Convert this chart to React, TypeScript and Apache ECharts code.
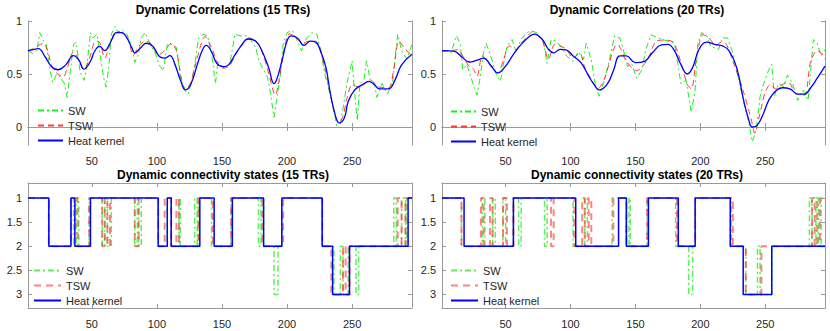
import React, { useEffect, useRef } from "react";
import * as echarts from "echarts";

// ---------- data ----------
const xTicks = [50, 100, 150, 200, 250];
const corrTicks = [0, 0.5, 1];
const stateTicks = [1, 1.5, 2, 2.5, 3];
const X_MIN = 1;
const X_MAX = 296;

const titles = [
  "Dynamic Correlations (15 TRs)",
  "Dynamic Correlations (20 TRs)",
  "Dynamic connectivity states (15 TRs)",
  "Dynamic connectivity states (20 TRs)",
];
const legendNames = ["SW", "TSW", "Heat kernel"];

// Dynamic correlations, 15 TRs  [TR, r]
const sw15 = [[1,0.72],[5,0.69],[8,0.73],[10,0.89],[13,0.81],[15,0.78],[18,0.53],[20,0.42],[23,0.5],[26,0.47],[29,0.41],[31,0.28],[33,0.47],[36,0.78],[38,0.8],[41,0.52],[44,0.44],[46,0.55],[49,0.89],[51,0.84],[54,0.875],[56,0.72],[59,0.47],[61,0.375],[63,0.56],[65,0.875],[68,0.95],[70,0.89],[73,0.92],[77,0.875],[81,0.75],[83,0.61],[86,0.69],[88,0.84],[91,0.89],[95,0.78],[99,0.69],[102,0.58],[105,0.53],[108,0.78],[111,0.78],[115,0.75],[118,0.47],[122,0.34],[124,0.31],[127,0.44],[130,0.66],[132,0.84],[135,0.875],[139,0.86],[142,0.69],[145,0.41],[147,0.625],[151,0.56],[156,0.59],[160,0.875],[164,0.86],[170,0.86],[176,0.75],[178,0.64],[181,0.56],[185,0.47],[187,0.34],[190,0.09],[192,0.25],[195,0.5],[197,0.78],[200,0.89],[204,0.91],[208,0.81],[211,0.72],[215,0.84],[219,0.89],[223,0.875],[226,0.72],[229,0.5],[233,0.31],[236,0.16],[238,0.016],[241,0.03],[244,0.25],[246,0.41],[250,0.625],[252,0.31],[254,0.06],[256,0.41],[259,0.44],[261,0.625],[264,0.44],[267,0.41],[269,0.28],[273,0.41],[277,0.31],[281,0.41],[285,0.875],[288,0.72],[292,0.64],[296,0.78]];
const tsw15 = [[1,0.72],[5,0.74],[9,0.77],[13,0.79],[16,0.72],[20,0.55],[24,0.5],[28,0.47],[31,0.55],[36,0.71],[39,0.66],[44,0.54],[48,0.64],[53,0.81],[56,0.8],[60,0.65],[64,0.78],[70,0.9],[74,0.88],[78,0.82],[82,0.68],[86,0.76],[91,0.81],[96,0.78],[101,0.68],[106,0.72],[111,0.79],[115,0.72],[119,0.45],[122,0.35],[126,0.42],[131,0.65],[137,0.853],[142,0.75],[148,0.57],[151,0.555],[156,0.58],[161,0.7],[166,0.79],[171,0.84],[177,0.8],[182,0.67],[186,0.5],[191,0.3],[194,0.45],[198,0.75],[202,0.88],[207,0.84],[212,0.79],[217,0.81],[222,0.81],[226,0.7],[231,0.45],[236,0.15],[240,0.04],[243,0.1],[246,0.27],[250,0.4],[254,0.38],[259,0.4],[264,0.445],[270,0.38],[278,0.37],[282,0.55],[286,0.81],[291,0.73],[296,0.68]];
const hk15 = [[1,0.72],[5,0.73],[9,0.74],[14,0.665],[19,0.57],[24,0.54],[30,0.586],[36,0.674],[40,0.633],[44,0.546],[49,0.62],[52,0.71],[56,0.76],[60,0.72],[64,0.79],[69,0.89],[73,0.89],[77,0.84],[81,0.74],[83,0.7],[87,0.74],[92,0.79],[97,0.76],[102,0.665],[106,0.65],[110,0.674],[114,0.586],[118,0.445],[122,0.35],[126,0.4],[131,0.586],[135,0.727],[138,0.77],[142,0.71],[146,0.6],[151,0.57],[155,0.586],[160,0.68],[165,0.77],[170,0.83],[176,0.81],[181,0.71],[186,0.555],[190,0.41],[192,0.445],[196,0.62],[200,0.81],[203,0.86],[208,0.84],[213,0.77],[218,0.81],[222,0.8],[226,0.71],[230,0.555],[233,0.335],[237,0.116],[240,0.038],[244,0.085],[247,0.24],[252,0.35],[258,0.4],[263,0.43],[267,0.4],[271,0.36],[278,0.36],[283,0.445],[288,0.586],[296,0.687]];

// Dynamic correlations, 20 TRs  [TR, r]
const sw20 = [[1,0.71],[5,0.72],[8,0.7],[12,0.86],[15,0.79],[17,0.54],[20,0.59],[22,0.52],[26,0.365],[28,0.3],[30,0.44],[33,0.7],[35,0.79],[39,0.65],[43,0.49],[46,0.43],[48,0.57],[51,0.76],[55,0.825],[58,0.71],[62,0.825],[66,0.89],[70,0.905],[74,0.89],[79,0.81],[82,0.6],[85,0.825],[89,0.81],[93,0.75],[97,0.67],[102,0.62],[106,0.71],[110,0.635],[112,0.79],[116,0.635],[119,0.41],[122,0.29],[126,0.44],[130,0.635],[134,0.86],[138,0.84],[140,0.76],[144,0.57],[147,0.6],[151,0.46],[155,0.54],[158,0.73],[162,0.87],[167,0.84],[175,0.81],[180,0.79],[183,0.57],[185,0.41],[189,0.44],[193,0.14],[196,0.35],[198,0.79],[201,0.89],[205,0.86],[208,0.76],[214,0.73],[217,0.84],[221,0.84],[225,0.7],[229,0.48],[233,0.25],[237,0.06],[240,-0.14],[243,-0.03],[246,0.29],[248,0.38],[252,0.52],[255,0.59],[257,0.29],[260,0.41],[264,0.38],[267,0.49],[271,0.41],[275,0.25],[279,0.35],[283,0.25],[287,0.825],[290,0.79],[293,0.67],[296,0.73]];
const tsw20 = [[1,0.72],[8,0.72],[13,0.73],[18,0.65],[22,0.57],[25,0.55],[28,0.48],[32,0.67],[36,0.62],[40,0.55],[44,0.51],[48,0.62],[53,0.765],[58,0.73],[62,0.79],[67,0.86],[71,0.9],[75,0.86],[79,0.79],[83,0.64],[88,0.78],[93,0.76],[97,0.73],[102,0.65],[107,0.7],[111,0.56],[116,0.45],[121,0.36],[126,0.45],[133,0.73],[136,0.78],[143,0.62],[151,0.53],[156,0.58],[161,0.68],[166,0.81],[172,0.82],[179,0.8],[184,0.65],[190,0.4],[193,0.36],[197,0.65],[202,0.87],[206,0.85],[212,0.77],[216,0.8],[220,0.78],[225,0.62],[233,0.34],[239,0.08],[242,-0.06],[245,0.08],[248,0.24],[250,0.33],[254,0.4],[258,0.36],[263,0.4],[268,0.42],[273,0.32],[280,0.3],[285,0.62],[290,0.72],[293,0.7],[296,0.64]];
const hk20 = [[1,0.72],[10,0.715],[17,0.654],[22,0.613],[28,0.63],[33,0.65],[39,0.575],[44,0.51],[50,0.575],[56,0.686],[62,0.78],[69,0.86],[72,0.876],[78,0.83],[83,0.733],[87,0.7],[92,0.733],[97,0.725],[102,0.67],[108,0.607],[114,0.48],[119,0.385],[122,0.35],[128,0.4],[133,0.53],[138,0.67],[143,0.67],[150,0.607],[157,0.62],[163,0.7],[170,0.775],[175,0.78],[180,0.72],[185,0.59],[190,0.5],[194,0.56],[199,0.733],[205,0.8],[211,0.78],[217,0.765],[222,0.72],[228,0.56],[233,0.27],[237,0.08],[240,0.0],[244,0.02],[248,0.11],[253,0.26],[258,0.34],[263,0.37],[269,0.36],[275,0.31],[280,0.31],[285,0.37],[290,0.46],[296,0.575]];

// Connectivity states: [TR at which the state starts, state]
const swStates15 = [[1,1],[17,2],[34,1],[36,2],[38,1],[40,2],[48,1],[58,2],[60,1],[62,2],[65,1],[83,2],[85,1],[86,2],[88,1],[101,2],[108,1],[111,2],[117,1],[118,2],[129,1],[131,2],[132,1],[142,2],[157,1],[178,2],[180,1],[182,2],[190,3],[193,2],[196,1],[227,2],[236,3],[241,2],[243,3],[247,2],[253,3],[255,2],[282,1],[284,2],[288,1],[291,2],[292,1]];
const tswStates15 = [[1,1],[17,2],[34,1],[39,2],[48,1],[58,2],[60,1],[62,2],[64,1],[83,2],[86,1],[101,2],[106,1],[111,2],[115,1],[117,2],[132,1],[143,2],[157,1],[181,2],[197,1],[227,2],[234,3],[243,2],[245,3],[248,2],[285,1],[288,2],[291,1]];
const hkStates15 = [[1,1],[17,2],[34,1],[37,2],[49,1],[101,2],[108,1],[111,2],[133,1],[144,2],[158,1],[182,2],[196,1],[227,2],[235,3],[248,2],[293,1]];

const swStates20 = [[1,1],[16,2],[32,1],[34,2],[40,1],[42,2],[48,1],[50,2],[56,1],[60,2],[62,1],[80,2],[82,1],[102,2],[111,1],[113,2],[132,1],[143,2],[145,1],[146,2],[159,1],[181,2],[191,3],[194,2],[196,1],[224,2],[235,3],[244,2],[246,3],[255,2],[284,1],[286,2],[289,1],[291,2],[293,1]];
const tswStates20 = [[1,1],[16,2],[31,1],[33,2],[38,1],[40,2],[48,1],[51,2],[56,1],[85,2],[87,1],[103,2],[109,1],[111,2],[114,1],[116,2],[133,1],[143,2],[159,1],[182,2],[196,1],[225,2],[235,3],[247,2],[286,1],[288,2],[290,1],[292,2]];
const hkStates20 = [[1,1],[18,2],[56,1],[104,2],[137,1],[143,2],[160,1],[183,2],[196,1],[223,2],[233,3],[255,2]];

// ---------- helpers ----------
const FONT = "Liberation Sans, Arial, Helvetica, sans-serif";
const AXIS_COLOR = "#9a9a9a";
const TEXT_COLOR = "#262626";

function stepData(segs: number[][]) {
  const d = segs.map((s) => [s[0], s[1]]);
  d.push([X_MAX, segs[segs.length - 1][1]]);
  return d;
}

const grids = [
  { left: 28, top: 21, width: 384, height: 124 },
  { left: 442, top: 21, width: 383, height: 124 },
  { left: 28, top: 183, width: 384, height: 125 },
  { left: 442, top: 183, width: 383, height: 125 },
];
const titlePos = [
  { x: 223, y: 4 },
  { x: 637, y: 4 },
  { x: 223, y: 169 },
  { x: 637, y: 169 },
];
const legendPos = [
  { left: 37, top: 105, w: 25 },
  { left: 450, top: 106, w: 25 },
  { left: 33, top: 265, w: 27 },
  { left: 450, top: 265, w: 27 },
];

function buildOption() {
  const xAxis: any[] = [];
  const yAxis: any[] = [];
  const series: any[] = [];
  const legend: any[] = [];
  const title: any[] = [];

  const corrSets = [
    [sw15, tsw15, hk15],
    [sw20, tsw20, hk20],
  ];
  const stateSets = [
    [swStates15, tswStates15, hkStates15],
    [swStates20, tswStates20, hkStates20],
  ];

  for (let g = 0; g < 4; g++) {
    const isState = g >= 2;
    const ticks = isState ? stateTicks : corrTicks;
    const yMin = isState ? 0.69 : -0.17;
    const yMax = isState ? 3.28 : 1;
    const axisCommon = {
      gridIndex: g,
      type: "value",
      axisLine: { show: true, lineStyle: { color: AXIS_COLOR, width: 1 } },
      splitLine: { show: false },
    };
    xAxis.push({
      ...axisCommon,
      position: "bottom",
      min: X_MIN,
      max: X_MAX,
      axisTick: { show: true, inside: true, length: 4, customValues: xTicks, lineStyle: { color: AXIS_COLOR } },
      axisLabel: { show: true, customValues: xTicks, margin: 10, fontSize: 11, color: TEXT_COLOR, fontFamily: FONT },
    });
    xAxis.push({
      ...axisCommon,
      position: "top",
      min: X_MIN,
      max: X_MAX,
      axisTick: { show: true, inside: true, length: 4, customValues: xTicks, lineStyle: { color: AXIS_COLOR } },
      axisLabel: { show: false },
    });
    yAxis.push({
      ...axisCommon,
      position: "left",
      min: yMin,
      max: yMax,
      inverse: isState,
      axisTick: { show: true, inside: true, length: 4, customValues: ticks, lineStyle: { color: AXIS_COLOR } },
      axisLabel: { show: true, customValues: ticks, margin: 6, fontSize: 11, color: TEXT_COLOR, fontFamily: FONT },
    });
    yAxis.push({
      ...axisCommon,
      position: "right",
      min: yMin,
      max: yMax,
      inverse: isState,
      axisTick: { show: true, inside: true, length: 4, customValues: ticks, lineStyle: { color: AXIS_COLOR } },
      axisLabel: { show: false },
    });

    const names = legendNames.map((n) => n + "|" + g);
    const set = isState ? stateSets[g - 2] : corrSets[g];
    const swStyle = isState
      ? { color: "#22ee22", width: 1.5, type: [6, 3, 2, 3], opacity: 0.75 }
      : { color: "#00ee00", width: 1, type: [6, 3, 2, 3], opacity: 0.9 };
    const tswStyle = isState
      ? { color: "#ff3030", width: 2, type: [7, 5], opacity: 0.6 }
      : { color: "#ff1a1a", width: 1, type: [6, 4], opacity: 0.85 };
    const hkStyle = isState
      ? { color: "#0000ff", width: 1.5, type: "solid", opacity: 1 }
      : { color: "#0000ff", width: 1.3, type: "solid", opacity: 1 };
    const styles = [swStyle, tswStyle, hkStyle];
    const smooths = [0, 0.3, 0.45];

    for (let k = 0; k < 3; k++) {
      series.push({
        type: "line",
        name: names[k],
        xAxisIndex: 2 * g,
        yAxisIndex: 2 * g,
        data: isState ? stepData(set[k]) : set[k],
        step: isState ? "end" : false,
        smooth: isState ? false : smooths[k],
        symbol: "none",
        showSymbol: false,
        color: styles[k].color,
        lineStyle: styles[k],
        z: 2 + k,
        silent: true,
      });
    }

    legend.push({
      show: true,
      orient: "vertical",
      left: legendPos[g].left,
      top: legendPos[g].top,
      itemWidth: legendPos[g].w,
      itemHeight: 10,
      itemGap: 4,
      padding: 0,
      selectedMode: false,
      data: names,
      formatter: (n: string) => n.split("|")[0],
      itemStyle: { opacity: 0, borderWidth: 0 },
      textStyle: { fontSize: 11, color: TEXT_COLOR, fontFamily: FONT },
    });

    title.push({
      text: titles[g],
      left: titlePos[g].x,
      top: titlePos[g].y,
      textAlign: "center",
      padding: 0,
      textStyle: { fontSize: 12, fontWeight: "bold", color: "#000", fontFamily: FONT },
    });
  }

  return {
    animation: false,
    backgroundColor: "#ffffff",
    title,
    legend,
    grid: grids.map((gr) => ({
      ...gr,
      containLabel: false,
      outerBoundsMode: "none",
      show: false,
    })),
    xAxis,
    yAxis,
    series,
  };
}

export default function App() {
  const ref = useRef<HTMLDivElement>(null);
  useEffect(() => {
    if (!ref.current) return;
    const chart = echarts.init(ref.current, undefined, { renderer: "svg" });
    chart.setOption(buildOption() as any);
    return () => chart.dispose();
  }, []);
  return (
    <div
      ref={ref}
      style={{ position: "fixed", left: 0, top: 0, width: 830, height: 331, background: "#fff" }}
    />
  );
}
